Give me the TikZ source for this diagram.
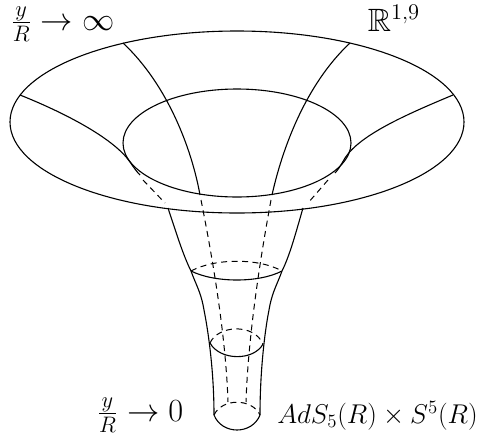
\documentclass[tikz,border=0pt]{standalone}
\usepackage{amsfonts}
\usepackage{amsmath}
\usepackage{amssymb}
\usetikzlibrary{positioning}

\begin{document}
\begin{tikzpicture}[
    x=1pt, y=-1pt,
    solidline/.style={line width=1.1pt, line join=round, black},
    hidden/.style={line width=1pt, black, dash pattern=on 6pt off 4.5pt},
    label/.style={font=\LARGE, scale=1.57, inner sep=0pt, anchor=center},
    biglabel/.style={label, scale=1.19},
]
\useasboundingbox (0,0) rectangle (479,437);

% Ellipses
\draw[solidline] (237,122) ellipse [x radius=227, y radius=91];
\draw[solidline] (237,143) ellipse [x radius=114, y radius=54];

% Radial lines
\draw[solidline] (20,95) .. controls (70,115) and (115,140) .. (130,162) .. controls (134,168) and (137,172) .. (140,175);
\draw[solidline] (453,95) .. controls (405,115) and (360,135) .. (345,158) .. controls (341,165) and (338,170) .. (335,173);
\draw[solidline] (123,43) .. controls (168,85) and (192,150) .. (200,195);
\draw[solidline] (350,43) .. controls (305,85) and (282,150) .. (272,195);

% Hidden parts
\draw[hidden] (143,180) -- (165,203);
\draw[hidden] (328,180) -- (308,203);
\draw[hidden] (201,200) .. controls (214,265) and (226,340) .. (228,402);
\draw[hidden] (271,200) .. controls (259,265) and (248,340) .. (246,402);

% Throat
\draw[solidline] (168,208) .. controls (176,232) and (183,255) .. (191,271) .. controls (196,285) and (201,292) .. (204,310) .. controls (208,330) and (214,370) .. (214,415);
\draw[solidline] (303,208) .. controls (296,232) and (290,255) .. (282,271) .. controls (277,285) and (272,292) .. (269,310) .. controls (265,330) and (260,370) .. (260,415);

% Rings
\draw[solidline] (191,271) .. controls (215,283) and (259,283) .. (282,271);
\draw[hidden] (191,271) .. controls (215,258) and (259,258) .. (282,271);
\draw[solidline] (210,343) .. controls (220,361) and (254,361) .. (263,344);
\draw[hidden] (210,343) .. controls (218,325) and (254,323) .. (263,344);
\draw[solidline] (214,415) .. controls (222,435) and (252,435) .. (260,415);
\draw[hidden] (214,415) .. controls (222,398) and (252,398) .. (260,415);

% Labels
\node[biglabel] (top_limit) at (62.5,24) {$\frac{y}{R}\rightarrow\infty$};
\node[biglabel] (flat) at (394,18) {$\mathbb{R}^{1,9}$};
\node[biglabel] (low_limit) at (140,415) {$\frac{y}{R}\rightarrow 0$};
\node[label] (ads) at (377.5,416) {$AdS_5(R)\times S^5(R)$};
\end{tikzpicture}
\end{document}
